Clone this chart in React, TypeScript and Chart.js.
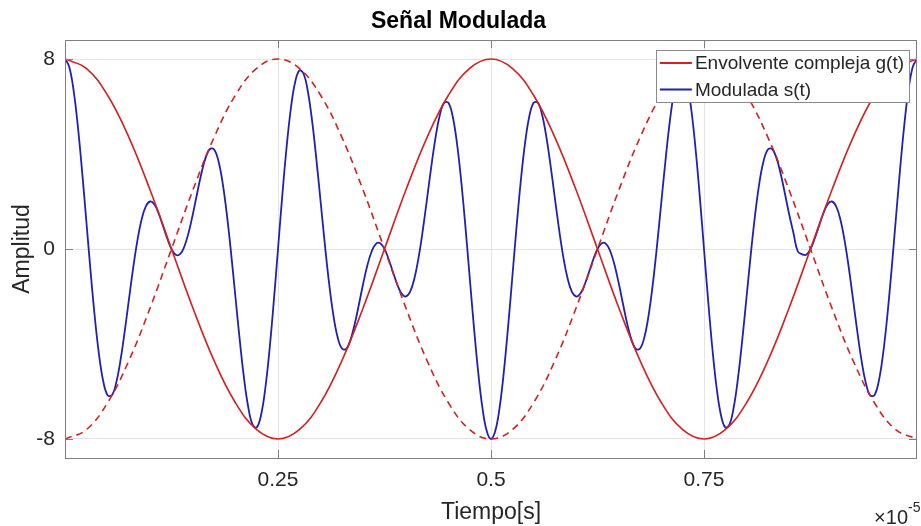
import React, { useEffect, useRef } from "react";
import { Chart, registerables } from "chart.js";

Chart.register(...registerables);

// Time axis in units of 1e-5 s
const envTime = [
  0, 0.025, 0.05, 0.075, 0.1, 0.125, 0.15, 0.175, 0.2, 0.225, 0.25, 0.275, 0.3, 0.325, 0.35, 0.375, 0.4, 0.425, 0.45,
  0.475, 0.5, 0.525, 0.55, 0.575, 0.6, 0.625, 0.65, 0.675, 0.7, 0.725, 0.75, 0.775, 0.8, 0.825, 0.85, 0.875, 0.9,
  0.925, 0.95, 0.975, 1,
];
// Envolvente compleja g(t)
const envValues = [
  8, 7.608, 6.472, 4.702, 2.472, 0, -2.472, -4.702, -6.472, -7.608, -8, -7.608, -6.472, -4.702, -2.472, 0, 2.472,
  4.702, 6.472, 7.608, 8, 7.608, 6.472, 4.702, 2.472, 0, -2.472, -4.702, -6.472, -7.608, -8, -7.608, -6.472, -4.702,
  -2.472, 0, 2.472, 4.702, 6.472, 7.608, 8,
];
// -g(t) (dashed)
const envNegValues = [
  -8, -7.608, -6.472, -4.702, -2.472, 0, 2.472, 4.702, 6.472, 7.608, 8, 7.608, 6.472, 4.702, 2.472, 0, -2.472,
  -4.702, -6.472, -7.608, -8, -7.608, -6.472, -4.702, -2.472, 0, 2.472, 4.702, 6.472, 7.608, 8, 7.608, 6.472, 4.702,
  2.472, 0, -2.472, -4.702, -6.472, -7.608, -8,
];

const modTime = [
  0, 0.005, 0.01, 0.015, 0.02, 0.025, 0.03, 0.035, 0.04, 0.045, 0.05, 0.055, 0.06, 0.065, 0.07, 0.075, 0.08, 0.085, 0.09, 0.095,
  0.1, 0.105, 0.11, 0.115, 0.12, 0.125, 0.13, 0.135, 0.14, 0.145, 0.15, 0.155, 0.16, 0.165, 0.17, 0.175, 0.18, 0.185, 0.19, 0.195,
  0.2, 0.205, 0.21, 0.215, 0.22, 0.225, 0.23, 0.235, 0.24, 0.245, 0.25, 0.255, 0.26, 0.265, 0.27, 0.275, 0.28, 0.285, 0.29, 0.295,
  0.3, 0.305, 0.31, 0.315, 0.32, 0.325, 0.33, 0.335, 0.34, 0.345, 0.35, 0.355, 0.36, 0.365, 0.37, 0.375, 0.38, 0.385, 0.39, 0.395,
  0.4, 0.405, 0.41, 0.415, 0.42, 0.425, 0.43, 0.435, 0.44, 0.445, 0.45, 0.455, 0.46, 0.465, 0.47, 0.475, 0.48, 0.485, 0.49, 0.495,
  0.5, 0.505, 0.51, 0.515, 0.52, 0.525, 0.53, 0.535, 0.54, 0.545, 0.55, 0.555, 0.56, 0.565, 0.57, 0.575, 0.58, 0.585, 0.59, 0.595,
  0.6, 0.605, 0.61, 0.615, 0.62, 0.625, 0.63, 0.635, 0.64, 0.645, 0.65, 0.655, 0.66, 0.665, 0.67, 0.675, 0.68, 0.685, 0.69, 0.695,
  0.7, 0.705, 0.71, 0.715, 0.72, 0.725, 0.73, 0.735, 0.74, 0.745, 0.75, 0.755, 0.76, 0.765, 0.77, 0.775, 0.78, 0.785, 0.79, 0.795,
  0.8, 0.805, 0.81, 0.815, 0.82, 0.825, 0.83, 0.835, 0.84, 0.845, 0.85, 0.855, 0.86, 0.865, 0.87, 0.875, 0.88, 0.885, 0.89, 0.895,
  0.9, 0.905, 0.91, 0.915, 0.92, 0.925, 0.93, 0.935, 0.94, 0.945, 0.95, 0.955, 0.96, 0.965, 0.97, 0.975, 0.98, 0.985, 0.99, 0.995,
  1,
];
// Modulada s(t)
const modValues = [
  8, 7.667, 6.701, 5.197, 3.299, 1.19, -0.932, -2.875, -4.469, -5.587,
  -6.155, -6.161, -5.649, -4.714, -3.491, -2.135, -0.803, 0.363, 1.254, 1.806,
  2.0, 1.872, 1.496, 0.978, 0.44, 0, -0.242, -0.219, 0.094, 0.674,
  1.453, 2.328, 3.167, 3.837, 4.211, 4.19, 3.717, 2.788, 1.45, -0.194,
  -2.0, -3.797, -5.402, -6.643, -7.38, -7.515, -7.011, -5.895, -4.253, -2.228,
  0, 2.228, 4.253, 5.895, 7.011, 7.515, 7.38, 6.643, 5.402, 3.797,
  2.0, 0.194, -1.45, -2.788, -3.717, -4.19, -4.211, -3.837, -3.167, -2.328,
  -1.453, -0.674, -0.094, 0.219, 0.242, 0, -0.44, -0.978, -1.496, -1.872,
  -2.0, -1.806, -1.254, -0.363, 0.803, 2.135, 3.491, 4.714, 5.649, 6.161,
  6.155, 5.587, 4.469, 2.875, 0.932, -1.19, -3.299, -5.197, -6.701, -7.667,
  -8,
  -7.667, -6.701, -5.197, -3.299, -1.19, 0.932, 2.875, 4.469, 5.587, 6.155,
  6.161, 5.649, 4.714, 3.491, 2.135, 0.803, -0.363, -1.254, -1.806, -2.0,
  -1.872, -1.496, -0.978, -0.44, 0, 0.242, 0.219, -0.094, -0.674, -1.453,
  -2.328, -3.167, -3.837, -4.211, -4.19, -3.717, -2.788, -1.45, 0.194, 2.0,
  3.797, 5.402, 6.643, 7.38, 7.515, 7.011, 5.895, 4.253, 2.228, 0,
  -2.228, -4.253, -5.895, -7.011, -7.515, -7.38, -6.643, -5.402, -3.797, -2.0,
  -0.194, 1.45, 2.788, 3.717, 4.19, 4.211, 3.837, 3.167, 2.328, 1.453,
  0.674, -0.094, -0.219, -0.242, 0, 0.44, 0.978, 1.496, 1.872, 2.0,
  1.806, 1.254, 0.363, -0.803, -2.135, -3.491, -4.714, -5.649, -6.161, -6.155,
  -5.587, -4.469, -2.875, -0.932, 1.19, 3.299, 5.197, 6.701, 7.667, 8,
];

const xTickValues = [0.25, 0.5, 0.75];
const xTickLabels = ["0.25", "0.5", "0.75"];
const yTickValues = [-8, 0, 8];
const yTickLabels = ["-8", "0", "8"];

const TITLE = "Señal Modulada";
const X_TITLE = "Tiempo[s]";
const Y_TITLE = "Amplitud";
const LEGEND_LABELS = ["Envolvente compleja g(t)", "Modulada s(t)"];

const FONT = "'Liberation Sans', Arial, Helvetica, sans-serif";
const RED = "#d42020";
const BLUE = "#2020b4";
const AXIS = "#7f7f7f";
const GRID = "#e4e4e4";
const TEXT = "#262626";

const decorPlugin = {
  id: "matlabDecor",
  afterDatasetsDraw(chart: any) {
    const { ctx, chartArea } = chart;
    const { left, right, top, bottom } = chartArea;
    const xs = chart.scales.x;
    const ys = chart.scales.y;
    ctx.save();
    // inward tick marks
    ctx.strokeStyle = AXIS;
    ctx.lineWidth = 1;
    ctx.beginPath();
    xTickValues.forEach((v) => {
      const px = Math.round(xs.getPixelForValue(v)) + 0.5;
      ctx.moveTo(px, bottom);
      ctx.lineTo(px, bottom - 8);
      ctx.moveTo(px, top);
      ctx.lineTo(px, top + 8);
    });
    yTickValues.forEach((v) => {
      const py = Math.round(ys.getPixelForValue(v)) + 0.5;
      ctx.moveTo(left, py);
      ctx.lineTo(left + 8, py);
      ctx.moveTo(right, py);
      ctx.lineTo(right - 8, py);
    });
    ctx.stroke();
    // box
    ctx.strokeRect(Math.round(left) + 0.5, Math.round(top) + 0.5, Math.round(right - left) - 1, Math.round(bottom - top));

    // legend
    ctx.font = `19px ${FONT}`;
    const tw = Math.max(...LEGEND_LABELS.map((l) => ctx.measureText(l).width));
    const boxRight = right - 8;
    const boxTop = top + 10;
    const boxW = 4 + 32 + 3 + tw + 5;
    const boxH = 52;
    const boxLeft = boxRight - boxW;
    ctx.fillStyle = "#ffffff";
    ctx.fillRect(boxLeft, boxTop, boxW, boxH);
    ctx.strokeStyle = "#8a8a8a";
    ctx.strokeRect(Math.round(boxLeft) + 0.5, Math.round(boxTop) + 0.5, Math.round(boxW), Math.round(boxH));
    const colors = [RED, BLUE];
    LEGEND_LABELS.forEach((label, i) => {
      const cy = boxTop + 13 + i * 26.5;
      ctx.strokeStyle = colors[i];
      ctx.lineWidth = 1.8;
      ctx.beginPath();
      ctx.moveTo(boxLeft + 4, cy);
      ctx.lineTo(boxLeft + 36, cy);
      ctx.stroke();
      ctx.fillStyle = TEXT;
      ctx.textBaseline = "middle";
      ctx.textAlign = "left";
      ctx.fillText(label, boxLeft + 39, cy + 1);
    });

    // exponent label
    ctx.fillStyle = TEXT;
    ctx.textBaseline = "alphabetic";
    ctx.textAlign = "right";
    ctx.font = `20px ${FONT}`;
    ctx.fillText("×10", 908, 524);
    ctx.textAlign = "left";
    ctx.font = `14px ${FONT}`;
    ctx.fillText("-5", 908, 512);
    ctx.restore();
  },
};

export default function App() {
  const canvasRef = useRef<HTMLCanvasElement | null>(null);

  useEffect(() => {
    document.body.style.margin = "0";
    const canvas = canvasRef.current;
    if (!canvas) return;
    const chart = new Chart(canvas, {
      type: "line",
      data: {
        datasets: [
          {
            label: LEGEND_LABELS[0],
            data: envTime.map((t, i) => ({ x: t, y: envValues[i] })),
            borderColor: RED,
            borderWidth: 1.6,
            pointRadius: 0,
            tension: 0.4,
            fill: false,
          },
          {
            label: "-g(t)",
            data: envTime.map((t, i) => ({ x: t, y: envNegValues[i] })),
            borderColor: RED,
            borderWidth: 1.6,
            borderDash: [7, 5],
            pointRadius: 0,
            tension: 0.4,
            fill: false,
          },
          {
            label: LEGEND_LABELS[1],
            data: modTime.map((t, i) => ({ x: t, y: modValues[i] })),
            borderColor: BLUE,
            borderWidth: 1.8,
            pointRadius: 0,
            tension: 0.4,
            fill: false,
          },
        ],
      },
      options: {
        animation: false,
        responsive: false,
        events: [],
        layout: { padding: { left: 0, right: 4, top: 0, bottom: 0 } },
        plugins: {
          legend: { display: false },
          tooltip: { enabled: false },
          title: {
            display: true,
            text: TITLE,
            color: "#000000",
            font: { family: FONT, size: 23, weight: "bold" },
            padding: { top: 7.5, bottom: 4.9 },
          },
        },
        scales: {
          x: {
            type: "linear",
            min: 0,
            max: 1,
            afterBuildTicks: (s: any) => {
              s.ticks = xTickValues.map((v) => ({ value: v }));
            },
            afterFit: (s: any) => {
              s.height = 68;
            },
            ticks: {
              autoSkip: false,
              maxRotation: 0,
              padding: 10,
              color: TEXT,
              font: { family: FONT, size: 21 },
              callback: (v: any) => {
                const i = xTickValues.indexOf(Number(v));
                return i >= 0 ? xTickLabels[i] : "";
              },
            },
            grid: { color: GRID, drawTicks: false, lineWidth: 1 },
            border: { display: false },
            title: {
              display: true,
              text: X_TITLE,
              color: TEXT,
              font: { family: FONT, size: 23 },
              padding: { top: 0, bottom: 0 },
            },
          },
          y: {
            type: "linear",
            min: -8.8,
            max: 8.8,
            afterBuildTicks: (s: any) => {
              s.ticks = yTickValues.map((v) => ({ value: v }));
            },
            afterFit: (s: any) => {
              s.width = 65;
            },
            ticks: {
              autoSkip: false,
              padding: 10,
              color: TEXT,
              font: { family: FONT, size: 21 },
              callback: (v: any) => {
                const i = yTickValues.indexOf(Number(v));
                return i >= 0 ? yTickLabels[i] : "";
              },
            },
            grid: { color: GRID, drawTicks: false, lineWidth: 1 },
            border: { display: false },
            title: {
              display: true,
              text: Y_TITLE,
              color: TEXT,
              font: { family: FONT, size: 23 },
              padding: { top: 8.5, bottom: 0 },
            },
          },
        },
      },
      plugins: [decorPlugin],
    } as any);
    return () => chart.destroy();
  }, []);

  return (
    <div style={{ width: 921, height: 526, position: "relative", background: "#ffffff" }}>
      <canvas ref={canvasRef} width={921} height={526} style={{ display: "block" }} />
    </div>
  );
}
